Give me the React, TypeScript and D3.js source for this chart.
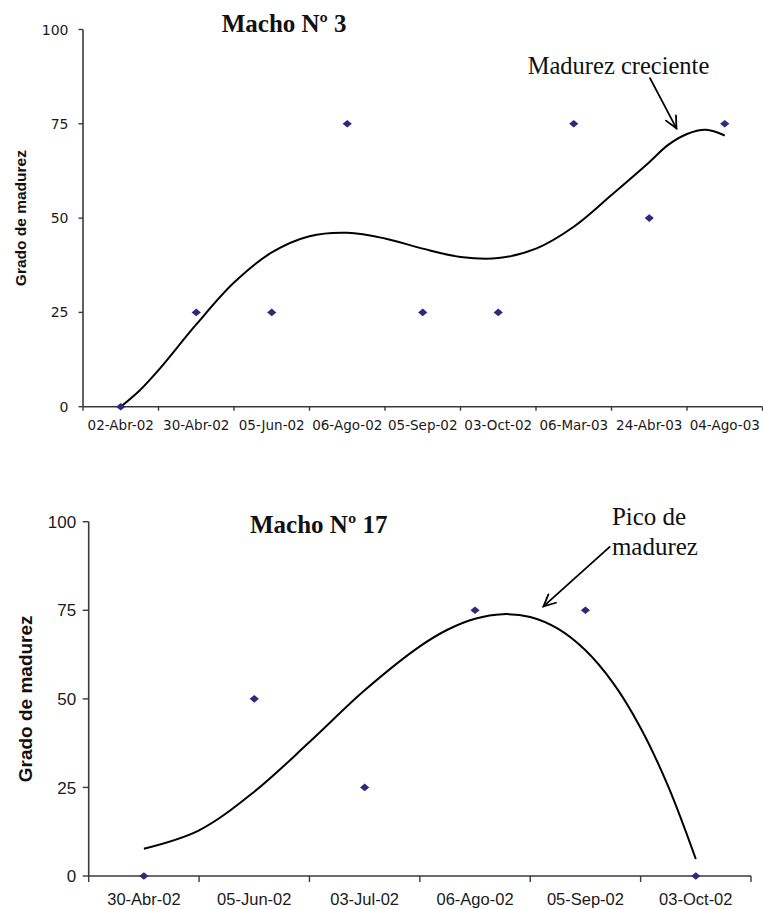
import React, { useEffect } from "react";
import * as d3 from "d3";

// ---------- Data: Macho Nº 3 ----------
const cats3 = ["02-Abr-02", "30-Abr-02", "05-Jun-02", "06-Ago-02", "05-Sep-02", "03-Oct-02", "06-Mar-03", "24-Abr-03", "04-Ago-03"];
const vals3 = [0, 25, 25, 75, 25, 25, 75, 50, 75];
const trendX3 = [1, 1.25, 1.5, 2, 2.5, 3, 3.5, 4, 4.5, 5, 5.5, 6, 6.5, 7, 7.5, 8, 8.25, 8.5, 8.75, 9];
const trendY3 = [0, 4.3, 9.7, 21.8, 32.9, 40.9, 45.2, 46.1, 44.6, 41.9, 39.7, 39.4, 41.9, 47.7, 56.1, 64.8, 69.4, 72.3, 73.4, 71.9];

// ---------- Data: Macho Nº 17 ----------
const cats17 = ["30-Abr-02", "05-Jun-02", "03-Jul-02", "06-Ago-02", "05-Sep-02", "03-Oct-02"];
const vals17 = [0, 50, 25, 75, 75, 0];
const trendX17 = [1, 1.5, 2, 2.5, 3, 3.5, 3.75, 4, 4.25, 4.5, 4.75, 5, 5.25, 5.5, 5.75, 6];
const trendY17 = [7.7, 12.9, 23.8, 37.8, 52.4, 64.8, 69.5, 72.6, 73.9, 73.1, 69.8, 63.7, 54.5, 41.8, 25.3, 4.8];

const yTicks = [0, 25, 50, 75, 100];

const MARKER = "#2b2b7c";
const AXIS = "#3a3a3a";

type PanelProps = {
  cats: string[];
  vals: number[];
  tx: number[];
  ty: number[];
  x0: number; x1: number; yTop: number; yBot: number;
  tickFont: string; xTickSize: number; yTickSize: number;
  yTickLen: number; yLabelGap: number; xTickLen: number; xLabelDy: number;
  yTitleX: number; yTitleFont: string; yTitleSize: number;
  title: string; titleX: number; titleY: number;
  children?: (x: d3.ScaleLinear<number, number>, y: d3.ScaleLinear<number, number>) => React.ReactNode;
};

function Panel(p: PanelProps) {
  const n = p.cats.length;
  const x = d3.scaleLinear().domain([0.5, n + 0.5]).range([p.x0, p.x1]);
  const y = d3.scaleLinear().domain([0, 100]).range([p.yBot, p.yTop]);
  const line = d3
    .line<number>()
    .x((_, i) => x(p.tx[i]))
    .y((d) => y(d))
    .curve(d3.curveCatmullRom.alpha(0.5));
  const bounds = d3.range(0, n + 1).map((i) => i + 0.5);
  const diamond = "M0,-3.8L4.6,0L0,3.8L-4.6,0Z";
  return (
    <g>
      {/* y axis */}
      <line x1={p.x0} x2={p.x0} y1={y(100)} y2={y(0)} stroke={AXIS} strokeWidth={1.6} />
      {yTicks.map((t) => (
        <g key={t}>
          <line x1={p.x0 - p.yTickLen} x2={p.x0} y1={y(t)} y2={y(t)} stroke={AXIS} strokeWidth={1.4} />
          <text
            x={p.x0 - p.yTickLen - p.yLabelGap}
            y={y(t)}
            dy="0.36em"
            textAnchor="end"
            fontFamily={p.tickFont}
            fontSize={p.yTickSize}
            fill="#1a1a1a"
          >
            {t}
          </text>
        </g>
      ))}
      {/* x axis */}
      <line x1={p.x0} x2={p.x1} y1={y(0)} y2={y(0)} stroke={AXIS} strokeWidth={1.6} />
      {bounds.map((b) => (
        <line key={b} x1={x(b)} x2={x(b)} y1={y(0)} y2={y(0) + p.xTickLen} stroke={AXIS} strokeWidth={1.4} />
      ))}
      {p.cats.map((c, i) => (
        <text
          key={c}
          x={x(i + 1)}
          y={y(0) + p.xLabelDy}
          textAnchor="middle"
          fontFamily={p.tickFont}
          fontSize={p.xTickSize}
          fill="#1a1a1a"
        >
          {c}
        </text>
      ))}
      {/* y title */}
      <text
        transform={`translate(${p.yTitleX},${(y(0) + y(100)) / 2}) rotate(-90)`}
        textAnchor="middle"
        dy="0.36em"
        fontFamily={p.yTitleFont}
        fontWeight="bold"
        fontSize={p.yTitleSize}
        fill="#111"
      >
        Grado de madurez
      </text>
      {/* trend line */}
      <path d={line(p.ty) || ""} fill="none" stroke="#000" strokeWidth={2} />
      {/* points */}
      {p.vals.map((v, i) => (
        <path key={i} d={diamond} transform={`translate(${x(i + 1)},${y(v)})`} fill={MARKER} />
      ))}
      {/* title */}
      <text
        x={p.titleX}
        y={p.titleY}
        fontFamily="'Liberation Serif', 'Times New Roman', serif"
        fontWeight="bold"
        fontSize={25}
        fill="#111"
      >
        {p.title}
      </text>
      {p.children ? p.children(x, y) : null}
    </g>
  );
}

function Arrow({ x1, y1, x2, y2, head = 13 }: { x1: number; y1: number; x2: number; y2: number; head?: number }) {
  const a = Math.atan2(y2 - y1, x2 - x1);
  const spread = 0.45;
  const ax = x2 - head * Math.cos(a - spread);
  const ay = y2 - head * Math.sin(a - spread);
  const bx = x2 - head * Math.cos(a + spread);
  const by = y2 - head * Math.sin(a + spread);
  return (
    <g stroke="#000" strokeWidth={1.8} fill="none" strokeLinecap="round">
      <line x1={x1} y1={y1} x2={x2} y2={y2} />
      <polyline points={`${ax},${ay} ${x2},${y2} ${bx},${by}`} />
    </g>
  );
}

const SERIF = "'Liberation Serif', 'Times New Roman', serif";

export default function App() {
  useEffect(() => {
    document.body.style.margin = "0";
  }, []);
  return (
    <svg width={763} height={909} style={{ display: "block", background: "#fff" }}>
      <rect width={763} height={909} fill="#fff" />
      <Panel
        cats={cats3}
        vals={vals3}
        tx={trendX3}
        ty={trendY3}
        x0={83}
        x1={762.5}
        yTop={29.5}
        yBot={406.7}
        tickFont="'DejaVu Sans', sans-serif"
        xTickSize={13.5}
        yTickSize={14}
        yTickLen={4.5}
        yLabelGap={10}
        xTickLen={4}
        xLabelDy={23}
        yTitleX={20}
        yTitleFont="'Liberation Sans', Arial, sans-serif"
        yTitleSize={15.5}
        title="Macho Nº 3"
        titleX={221.7}
        titleY={31.7}
      >
        {(x, y) => (
          <g>
            <text x={x(6.39)} y={y(88.2)} fontFamily={SERIF} fontSize={24.5} fill="#111">
              Madurez creciente
            </text>
            <Arrow x1={x(8.01)} y1={y(87.1)} x2={x(8.36)} y2={y(73.8)} />
          </g>
        )}
      </Panel>
      <Panel
        cats={cats17}
        vals={vals17}
        tx={trendX17}
        ty={trendY17}
        x0={88.7}
        x1={751}
        yTop={521.7}
        yBot={876}
        tickFont="'Liberation Sans', Arial, sans-serif"
        xTickSize={16.5}
        yTickSize={17}
        yTickLen={6}
        yLabelGap={6.5}
        xTickLen={6}
        xLabelDy={28.5}
        yTitleX={25.5}
        yTitleFont="'Liberation Sans', Arial, sans-serif"
        yTitleSize={19}
        title="Macho Nº 17"
        titleX={250}
        titleY={533.3}
      >
        {(x, y) => (
          <g>
            <text fontFamily={SERIF} fontSize={25} fill="#111">
              <tspan x={x(5.24)} y={y(99.0)}>Pico de</tspan>
              <tspan x={x(5.24)} y={y(90.5)}>madurez</tspan>
            </text>
            <Arrow x1={x(5.22)} y1={y(92.9)} x2={x(4.62)} y2={y(76.1)} />
          </g>
        )}
      </Panel>
    </svg>
  );
}
